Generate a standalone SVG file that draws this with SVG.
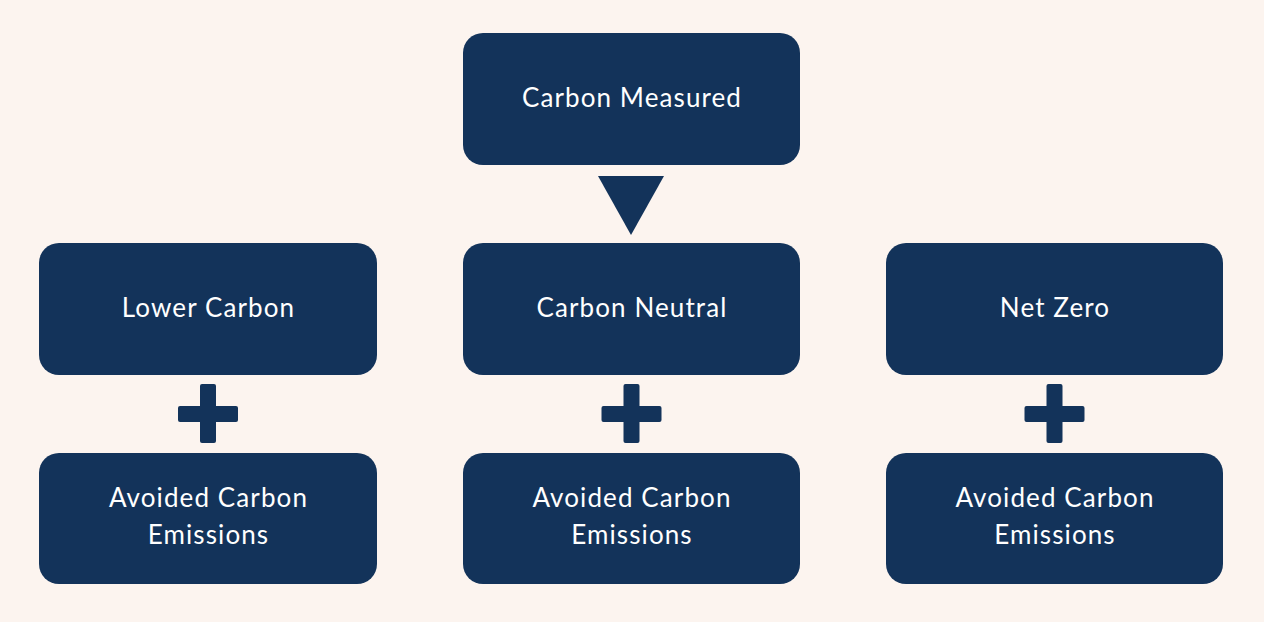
<svg xmlns="http://www.w3.org/2000/svg" width="1264" height="622" viewBox="0 0 1264 622">
<style>
.box{fill:#13335a}
.t{fill:#ffffff;font-family:Lato,"Noto Sans",sans-serif;font-size:26px;letter-spacing:1.1px;text-anchor:middle}
.sym{fill:#13335a}
</style>
<rect width="1264" height="622" fill="#fcf4ef"/>
<g id="carbon-measured"><rect class="box" x="463" y="33" width="337" height="132" rx="20"/><text class="t" x="632" y="107">Carbon Measured</text></g>
<g id="lower-carbon"><rect class="box" x="39" y="243" width="338" height="132" rx="20"/><text class="t" x="208.5" y="317">Lower Carbon</text></g>
<g id="carbon-neutral"><rect class="box" x="463" y="243" width="337" height="132" rx="20"/><text class="t" x="632" y="317">Carbon Neutral</text></g>
<g id="net-zero"><rect class="box" x="886" y="243" width="337" height="132" rx="20"/><text class="t" x="1055" y="317">Net Zero</text></g>
<g id="avoided-1"><rect class="box" x="39" y="453" width="338" height="131" rx="20"/><text class="t" x="208.5" y="507">Avoided Carbon</text><text class="t" x="208.5" y="544">Emissions</text></g>
<g id="avoided-2"><rect class="box" x="463" y="453" width="337" height="131" rx="20"/><text class="t" x="632" y="507">Avoided Carbon</text><text class="t" x="632" y="544">Emissions</text></g>
<g id="avoided-3"><rect class="box" x="886" y="453" width="337" height="131" rx="20"/><text class="t" x="1055" y="507">Avoided Carbon</text><text class="t" x="1055" y="544">Emissions</text></g>
<g id="connectors">
<polygon class="sym" points="598,176 664,176 631,235"/>
<g class="sym"><rect x="200" y="384" width="16" height="59" rx="2"/><rect x="178" y="406" width="60" height="16" rx="2"/></g>
<g class="sym"><rect x="623.5" y="384" width="16" height="59" rx="2"/><rect x="601.5" y="406" width="60" height="16" rx="2"/></g>
<g class="sym"><rect x="1046.5" y="384" width="16" height="59" rx="2"/><rect x="1024.5" y="406" width="60" height="16" rx="2"/></g>
</g>
</svg>
